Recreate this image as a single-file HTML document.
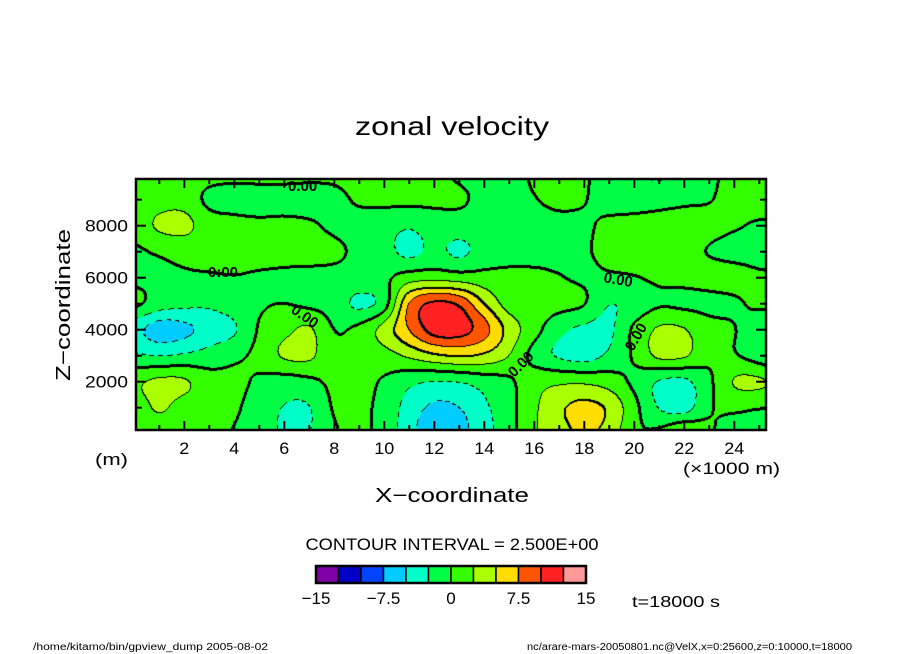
<!DOCTYPE html>
<html>
<head>
<meta charset="utf-8">
<style>
  html,body{margin:0;padding:0;background:#fff;}
  #wrap{position:relative;width:904px;height:654px;overflow:hidden;background:#fff;}
  #field{position:absolute;left:136px;top:179px;}
  #ov{position:absolute;left:0;top:0;}
  text{font-family:"Liberation Sans",sans-serif;fill:#000;}
</style>
</head>
<body>
<div id="wrap">
<canvas id="field" width="630" height="251"></canvas>
<svg id="ov" width="904" height="654">
  <text x="452" y="135" font-size="26" text-anchor="middle" textLength="194" lengthAdjust="spacingAndGlyphs">zonal velocity</text>
  <g id="contour-labels" font-size="15" font-weight="bold">
    <text x="288" y="191">0.00</text>
    <text x="208" y="277">0:00</text>
    <text x="290" y="312" transform="rotate(35 290 312)">0.00</text>
    <text x="514" y="378" transform="rotate(-45 514 378)">0.00</text>
    <text x="603" y="282" transform="rotate(10 603 282)">0.00</text>
    <text x="633" y="352" transform="rotate(-60 633 352)">0.00</text>
  </g>
  <g id="axes"></g>
  <rect x="136" y="179" width="630" height="251" fill="none" stroke="#000" stroke-width="2.5"/>
  <text x="70" y="305" font-size="20" text-anchor="middle" transform="rotate(-90 70 305)" textLength="152" lengthAdjust="spacingAndGlyphs">Z−coordinate</text>
  <text x="452" y="502" font-size="20" text-anchor="middle" textLength="154" lengthAdjust="spacingAndGlyphs">X−coordinate</text>
  <text x="95" y="465" font-size="17" textLength="33" lengthAdjust="spacingAndGlyphs">(m)</text>
  <text x="683" y="474" font-size="17" textLength="97" lengthAdjust="spacingAndGlyphs">(×1000 m)</text>
  <text x="452" y="550" font-size="17" text-anchor="middle" textLength="293" lengthAdjust="spacingAndGlyphs">CONTOUR INTERVAL = 2.500E+00</text>
  <g id="colorbar"></g>
  <text x="632" y="607" font-size="16" textLength="88" lengthAdjust="spacingAndGlyphs">t=18000 s</text>
  <text x="33" y="650" font-size="10" textLength="235" lengthAdjust="spacingAndGlyphs">/home/kitamo/bin/gpview_dump  2005-08-02</text>
  <text x="527" y="650" font-size="10" textLength="325" lengthAdjust="spacingAndGlyphs">nc/arare-mars-20050801.nc@VelX,x=0:25600,z=0:10000,t=18000</text>
</svg>
</div>
<script>
// ---- data: zonal velocity grid (m/s), x = 0..26 km (step 1), rows by z (km) ----
const xNodes = [0,1,2,3,4,5,6,7,8,9,10,11,12,13,14,15,16,17,18,19,20,21,22,23,24,25,26];
const zNodes = [0,1,2,3,4,5,6,7,8,9,10];
const row_z0  = [0.8,1.0,0.8,0.5,-0.1,-1.2,-2.8,-2.6,-0.3,0.5,-1.0,-4.0,-7.2,-6.0,-3.5,-1.0,2.2,4.0,5.5,4.0,0.5,0.5,2.6,0.5,-1.5,-2.6,-1.0];
const row_z1  = [1.2,2.8,1.5,0.8,0.3,-1.0,-2.6,-2.6,0.2,0.5,-0.8,-3.5,-5.5,-5.0,-3.0,-0.8,2.0,4.5,5.8,4.5,0.8,-2.6,-3.5,-0.3,0.5,0.2,0.0];
const row_z2  = [2.0,3.0,2.8,1.0,0.5,-0.3,-1.0,-0.5,0.5,0.8,-0.3,-1.8,-2.5,-2.3,-1.3,-0.4,1.5,2.0,2.0,1.3,-0.5,-2.6,-3.0,-0.5,2.6,2.8,1.5];
const row_z3  = [-2.2,-2.6,-2.2,-1.5,-0.5,0.6,2.8,3.0,0.5,0.5,1.5,3.0,4.5,5.2,4.5,2.5,-0.8,-2.8,-3.5,-2.0,0.3,3.0,2.8,0.6,0.2,-1.2,-3.0];
const row_z4  = [-4.2,-6.2,-5.6,-4.0,-2.8,0.2,1.8,2.8,0.0,0.6,3.5,7.5,11.0,11.0,8.5,4.0,1.0,-1.8,-3.0,-3.0,0.4,2.8,2.6,0.8,0.1,-1.5,-4.0];
const row_z5  = [0.5,-1.2,-1.8,-2.0,-1.2,-0.3,0.0,-0.5,-1.0,-3.0,-1.2,7.5,10.5,9.5,5.0,1.5,1.0,0.8,0.1,-2.4,-1.6,-0.3,-0.5,-0.6,-0.3,0.4,0.4];
const row_z6  = [-0.5,-0.6,-0.4,-0.3,-0.1,-0.3,-0.4,-0.5,-0.6,-0.8,-0.5,1.2,1.6,1.2,0.9,0.7,0.5,0.1,-0.3,-0.3,-0.1,0.4,0.6,0.8,0.8,0.3,0.2];
const row_z7  = [-0.3,0.3,0.8,1.0,1.0,1.0,0.8,0.7,0.4,-0.5,-1.5,-3.2,-1.8,-3.0,-1.5,-1.0,-0.8,-0.6,-0.2,0.5,1.0,1.0,0.8,-0.1,-0.6,-0.7,-0.7];
const row_z8  = [0.8,2.9,3.2,1.2,0.8,0.5,0.6,0.3,-0.4,-0.8,-1.5,-2.2,-1.2,-1.0,-1.0,-0.8,-0.8,-0.6,-0.3,0.4,0.7,0.8,0.8,0.6,0.2,-0.2,-0.2];
const row_z9  = [0.8,1.5,1.5,-0.5,-1.0,-1.0,-1.0,-1.0,-0.6,0.3,0.6,0.6,0.5,0.3,-0.5,-0.6,-0.1,0.5,0.1,-0.8,-1.0,-0.8,-0.4,-0.1,0.6,0.8,0.8];
const row_z10 = [1.0,1.2,1.0,0.8,0.7,0.8,0.8,0.6,0.5,0.8,1.0,0.8,0.4,-0.3,-0.8,-0.5,0.2,0.8,0.3,-1.2,-2.0,-3.0,-2.0,-0.5,0.5,0.6,0.6];
const levelColors = ['#8000A8','#0000C8','#0044FF','#00CCFF','#00FFC8','#00FF44','#33FF00','#AAFF00','#FFDD00','#FF5500','#FF2222','#FF9999'];
const colorbarLabels = ['−15','−7.5','0','7.5','15'];
const colorbarLabelValues = [-15,-7.5,0,7.5,15];
const xTickValues = [2,4,6,8,10,12,14,16,18,20,22,24];
const yTickValues = [2000,4000,6000,8000];
const levelMin = -15, levelStep = 2.5;

const grid = [row_z0,row_z1,row_z2,row_z3,row_z4,row_z5,row_z6,row_z7,row_z8,row_z9,row_z10];

// ---- axis functions ----
function xScale(xkm){ return 134.3 + xkm*25; }
function zScale(zkm){ return 433.7 - zkm*26; }
function xInv(px){ return (px-134.3)/25; }
function zInv(py){ return (433.7-py)/26; }

function cr(p0,p1,p2,p3,t){
  return 0.5*((2*p1)+(-p0+p2)*t+(2*p0-5*p1+4*p2-p3)*t*t+(-p0+3*p1-3*p2+p3)*t*t*t);
}
function gv(i,j){
  i=Math.max(0,Math.min(xNodes.length-1,i));
  j=Math.max(0,Math.min(zNodes.length-1,j));
  return grid[j][i];
}
function sample(x,z){
  const i=Math.floor(x), j=Math.floor(z);
  const tx=x-i, tz=z-j;
  const r=[];
  for(let k=-1;k<=2;k++){
    r.push(cr(gv(i-1,j+k),gv(i,j+k),gv(i+1,j+k),gv(i+2,j+k),tx));
  }
  return cr(r[0],r[1],r[2],r[3],tz);
}
function levelIndex(v){
  let k=Math.floor((v-levelMin)/levelStep);
  return Math.max(0,Math.min(levelColors.length-1,k));
}
function hexRgb(h){return [parseInt(h.substr(1,2),16),parseInt(h.substr(3,2),16),parseInt(h.substr(5,2),16)];}

// ---- render field ----
(function(){
  const cv=document.getElementById('field');
  const ctx=cv.getContext('2d');
  const W=cv.width,H=cv.height;
  const ox=136, oy=179;
  const idx=new Int16Array(W*H);
  for(let py=0;py<H;py++){
    for(let px=0;px<W;px++){
      const v=sample(xInv(ox+px+0.5), zInv(oy+py+0.5));
      idx[py*W+px]=levelIndex(v);
    }
  }
  const img=ctx.createImageData(W,H);
  const rgb=levelColors.map(hexRgb);
  const black=new Uint8Array(W*H);
  function mark(x,y){ if(x>=0&&y>=0&&x<W&&y<H) black[y*W+x]=1; }
  for(let py=0;py<H;py++){
    for(let px=0;px<W;px++){
      const a=idx[py*W+px];
      const nb=[];
      if(px<W-1) nb.push(idx[py*W+px+1]);
      if(py<H-1) nb.push(idx[(py+1)*W+px]);
      for(const b of nb){
        if(b!==a){
          const L=levelMin+levelStep*Math.max(a,b);
          if(L<0){
            if(((px+py)%9)<5) mark(px,py);
          } else if(L===0){
            mark(px,py);mark(px+1,py);mark(px,py+1);mark(px-1,py);mark(px,py-1);
          } else if(L===5 || L===10){
            mark(px,py);mark(px+1,py);mark(px,py+1);
          } else {
            mark(px,py);
          }
        }
      }
    }
  }
  for(let p=0;p<W*H;p++){
    const c=black[p]?[0,0,0]:rgb[idx[p]];
    img.data[p*4]=c[0];img.data[p*4+1]=c[1];img.data[p*4+2]=c[2];img.data[p*4+3]=255;
  }
  ctx.putImageData(img,0,0);
})();

// ---- axes ----
(function(){
  const NS='http://www.w3.org/2000/svg';
  const g=document.getElementById('axes');
  function line(x1,y1,x2,y2,name){
    const l=document.createElementNS(NS,'line');
    l.setAttribute('x1',x1);l.setAttribute('y1',y1);l.setAttribute('x2',x2);l.setAttribute('y2',y2);
    l.setAttribute('stroke','#000');l.setAttribute('stroke-width','2');
    
    
    g.appendChild(l);
  }
  function txt(x,y,s,anchor,size,len,name){
    const t=document.createElementNS(NS,'text');
    t.setAttribute('x',x);t.setAttribute('y',y);t.setAttribute('font-size',size);
    t.setAttribute('text-anchor',anchor);
    if(len){t.setAttribute('textLength',len);t.setAttribute('lengthAdjust','spacingAndGlyphs');}
    t.textContent=s;
    
    
    g.appendChild(t);
  }
  for(let k=1;k<=25;k++){
    const px=xScale(k);
    const major=(k%2===0);
    const L=major?9:5;
    line(px,430,px,430-L,'x-tick');
    line(px,179,px,179+L,'x-tick-top');
  }
  for(let k=1;k<=9;k++){
    const py=zScale(k);
    const major=(k%2===0);
    const L=major?10:6;
    line(136,py,136+L,py,'y-tick');
    line(766,py,766-L,py,'y-tick-right');
  }
  xTickValues.forEach(v=>{
    txt(xScale(v),454,String(v),'middle',17,String(v).length*10,'x-tick-label');
  });
  yTickValues.forEach(v=>{
    txt(128,zScale(v/1000)+6,String(v),'end',17,43,'y-tick-label');
  });
})();

// ---- colorbar ----
(function(){
  const NS='http://www.w3.org/2000/svg';
  const g=document.getElementById('colorbar');
  const x0=316,x1=586,y0=566,h=17;
  const n=levelColors.length;
  const w=(x1-x0)/n;
  function cbScale(v){ return x0+(v-levelMin)/(levelStep*n)*(x1-x0); }
  levelColors.forEach((c,i)=>{
    const r=document.createElementNS(NS,'rect');
    r.setAttribute('x',x0+i*w);r.setAttribute('y',y0);r.setAttribute('width',w);r.setAttribute('height',h);
    r.setAttribute('fill',c);r.setAttribute('stroke','#000');r.setAttribute('stroke-width','1.5');
    
    
    g.appendChild(r);
  });
  const f=document.createElementNS(NS,'rect');
  f.setAttribute('x',x0);f.setAttribute('y',y0);f.setAttribute('width',x1-x0);f.setAttribute('height',h);
  f.setAttribute('fill','none');f.setAttribute('stroke','#000');f.setAttribute('stroke-width','2.5');
  
  
  g.appendChild(f);
  colorbarLabels.forEach((s,i)=>{
    const t=document.createElementNS(NS,'text');
    t.setAttribute('x',cbScale(colorbarLabelValues[i]));t.setAttribute('y',604);
    t.setAttribute('font-size','17');t.setAttribute('text-anchor','middle');
    t.textContent=s;
    
    
    g.appendChild(t);
  });
})();
</script>
</body>
</html>
